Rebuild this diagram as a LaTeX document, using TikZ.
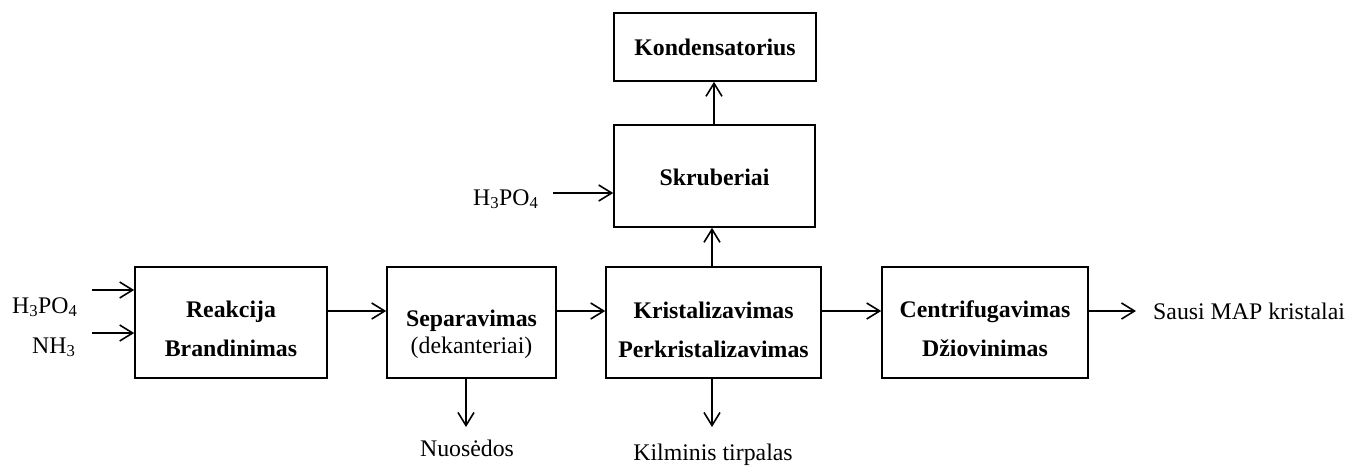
\documentclass[tikz,border=0pt]{standalone}
\usepackage{fontspec}
\setmainfont{Liberation Serif}
\usetikzlibrary{arrows.meta}
\newcommand{\sub}[1]{\textsubscript{#1}}
\tikzset{
  proc/.style={draw, line width=1.6pt, inner sep=0pt},
  title/.style={inner sep=0pt, align=center,
    font=\fontsize{23.8}{39}\selectfont\bfseries},
  lbl/.style={inner sep=0pt, font=\fontsize{23.8}{28}\selectfont},
  flow/.style={-{Straight Barb[length=13pt,width=16pt,line width=1.6pt]}, line width=1.6pt},
}
\begin{document}
\begin{tikzpicture}[x=1pt,y=-1pt]
\useasboundingbox (0,0) rectangle (1365,467);

% process boxes
\node[proc, minimum width=192pt, minimum height=111pt] (reak) at (231,322.5) {};
\node[proc, minimum width=169pt, minimum height=111pt] (sep) at (471.5,322.5) {};
\node[proc, minimum width=215pt, minimum height=111pt] (krist) at (713.5,322.5) {};
\node[proc, minimum width=206pt, minimum height=111pt] (cent) at (985,322.5) {};
\node[proc, minimum width=201pt, minimum height=102pt] (skrub) at (714.5,176) {};
\node[proc, minimum width=202pt, minimum height=68pt] (kond) at (715,47) {};

% box titles
\node[title] (reakt) at (231,329) {Reakcija\\Brandinimas};
\node[title, font=\fontsize{23.8}{27}\selectfont] (sept) at (471.5,334.5) {\textbf{Separavimas}\\(dekanteriai)};
\node[title] (kristt) at (713.5,329.5) {Kristalizavimas\\Perkristalizavimas};
\node[title] (centt) at (985,329) {Centrifugavimas\\Džiovinimas};
\node[title] (skrubt) at (714.5,177) {Skruberiai};
\node[title] (kondt) at (715,47) {Kondensatorius};

% feed and product labels
\node[lbl, anchor=base west] (h3a) at (12,313) {H\sub{3}PO\sub{4}};
\node[lbl, anchor=base west] (nh3) at (32,353) {NH\sub{3}};
\node[lbl, anchor=base west] (h3b) at (473,205) {H\sub{3}PO\sub{4}};
\node[lbl, anchor=base] (nuos) at (467,456) {Nuosėdos};
\node[lbl, anchor=base] (kilm) at (713,460) {Kilminis tirpalas};
\node[lbl, anchor=base west] (saus) at (1153,319) {Sausi MAP kristalai};

% free ends of the connectors
\coordinate (a1) at (92,290);
\coordinate (a2) at (92,333);
\coordinate (a3) at (553,193);
\coordinate (d1) at (466,427);
\coordinate (d2) at (712,427);
\coordinate (o1) at (1136,311);

% connectors
\draw[flow] (a1) -- (a1 -| reak.west);
\draw[flow] (a2) -- (a2 -| reak.west);
\draw[flow] (reak.east |- 0,311) -- (sep.west |- 0,311);
\draw[flow] (sep.east |- 0,311) -- (krist.west |- 0,311);
\draw[flow] (krist.east |- 0,311) -- (cent.west |- 0,311);
\draw[flow] (cent.east |- 0,311) -- (o1);
\draw[flow] (sep.south -| d1) -- (d1);
\draw[flow] (krist.south -| d2) -- (d2);
\draw[flow] (krist.north -| 712,0) -- (skrub.south -| 712,0);
\draw[flow] (skrub.north -| 714,0) -- (kond.south -| 714,0);
\draw[flow] (a3) -- (a3 -| skrub.west);
\end{tikzpicture}
\end{document}
